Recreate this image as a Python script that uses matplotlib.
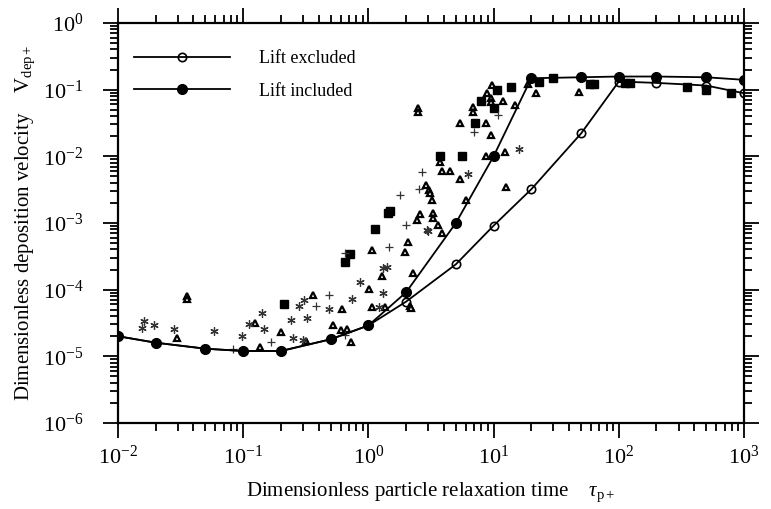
import matplotlib
matplotlib.use("Agg")
import matplotlib.pyplot as plt
from matplotlib.ticker import LogLocator, NullFormatter, FuncFormatter
import numpy as np

plt.rcParams['font.family'] = ['Liberation Serif', 'DejaVu Serif']
plt.rcParams['mathtext.fontset'] = 'custom'
plt.rcParams['mathtext.rm'] = 'Liberation Serif'
plt.rcParams['mathtext.it'] = 'Liberation Serif:italic'
plt.rcParams['mathtext.bf'] = 'Liberation Serif:bold'

# model curves
tau_curve = [0.01, 0.02, 0.05, 0.1, 0.2, 0.5, 1, 2, 5, 10, 20, 50, 100, 200, 500, 1000]
v_lift = [2.0e-5, 1.6e-5, 1.3e-5, 1.2e-5, 1.2e-5, 1.8e-5, 2.9e-5, 9.1e-5, 1.0e-3,
          1.0e-2, 0.148, 0.153, 0.157, 0.157, 0.153, 0.14]
v_nolift = [2.0e-5, 1.6e-5, 1.3e-5, 1.2e-5, 1.2e-5, 1.8e-5, 2.9e-5, 6.6e-5, 2.4e-4,
            9.1e-4, 3.2e-3, 0.022, 0.132, 0.126, 0.115, 0.088]

# experimental data (open triangles)
tri_tau = [0.0354, 0.0354, 0.0294, 0.124, 0.136, 0.20, 0.318, 0.363, 0.52, 0.61, 0.60,
           0.68, 0.726, 1.01, 1.06, 1.28, 1.35, 2.15, 2.2, 2.28, 1.06, 1.96, 2.06, 2.46,
           2.58, 3.3, 3.3, 3.6, 3.9, 2.9, 3.05, 3.1, 3.2, 3.73, 3.9, 4.5, 5.4, 6.0, 12.6,
           12.3, 8.7, 9.5, 8.65, 5.4, 6.8, 6.8, 2.5, 2.5, 8.9, 9.8, 9.5, 9.5, 11.9, 14.8,
           18.9, 22, 48]
tri_v = [7.9e-5, 7.2e-5, 1.86e-5, 3.15e-5, 1.4e-5, 2.35e-5, 1.7e-5, 8.2e-5, 2.95e-5,
         5.1e-5, 2.45e-5, 2.6e-5, 1.66e-5, 1.02e-4, 5.5e-5, 1.6e-4, 5.5e-5, 5.6e-5, 5.3e-5,
         1.78e-4, 3.9e-4, 3.7e-4, 5.1e-4, 1.1e-3, 1.37e-3, 1.4e-3, 1.2e-3, 9.4e-4, 7.0e-4,
         3.7e-3, 3.1e-3, 2.8e-3, 2.2e-3, 8.1e-3, 6.0e-3, 6.0e-3, 4.5e-3, 2.2e-3, 3.5e-3,
         1.17e-2, 1.02e-2, 2.1e-2, 0.032, 0.032, 0.055, 0.046, 0.053, 0.046, 0.088, 0.118,
         0.074, 0.066, 0.068, 0.059, 0.122, 0.088, 0.093]

# filled squares
sq_tau = [0.213, 0.65, 0.71, 1.13, 1.43, 1.5, 3.73, 5.6, 7.1, 8.0, 10.7, 10.0, 13.8, 23,
          30, 59, 63, 112, 122, 350, 500, 780]
sq_v = [6.1e-5, 2.6e-4, 3.4e-4, 8.1e-4, 1.4e-3, 1.5e-3, 1.0e-2, 1.0e-2, 0.031, 0.068,
        0.097, 0.053, 0.109, 0.132, 0.148, 0.122, 0.122, 0.125, 0.125, 0.109, 0.099, 0.089]

# plus signs
plus_tau = [0.083, 0.166, 0.38, 0.485, 0.65, 0.65, 1.47, 2.0, 1.79, 2.55, 2.7, 7.0, 10.8]
plus_v = [1.3e-5, 1.66e-5, 5.6e-5, 8.3e-5, 2.1e-5, 3.6e-4, 4.4e-4, 9.4e-4, 2.6e-3,
          3.2e-3, 5.8e-3, 0.023, 0.042]

# asterisks
ast_tau = [0.0162, 0.0156, 0.0195, 0.0279, 0.0588, 0.097, 0.112, 0.142, 0.148, 0.241,
           0.248, 0.279, 0.308, 0.325, 0.299, 0.487, 0.743, 0.857, 1.22, 1.31, 1.31, 1.4,
           2.92, 3.0, 6.3, 16]
ast_v = [3.4e-5, 2.65e-5, 2.9e-5, 2.6e-5, 2.4e-5, 2.05e-5, 3.0e-5, 4.4e-5, 2.6e-5, 3.45e-5,
         1.87e-5, 5.6e-5, 6.9e-5, 3.8e-5, 1.77e-5, 5.1e-5, 7.3e-5, 1.32e-4, 5.5e-5, 8.9e-5,
         2.1e-4, 2.2e-4, 7.9e-4, 7.5e-4, 5.5e-3, 1.3e-2]


def pow10(v, pos):
    e = int(round(np.log10(v)))
    return r'$\mathregular{10^{%d}}$' % e


fig = plt.figure(figsize=(7.71, 5.09), dpi=100)
ax = fig.add_axes([0.153, 0.169, 0.812, 0.786])

ax.plot(tri_tau, tri_v, '^', ms=5, mfc='white', mec='black', mew=1.6, ls='none')
ax.plot(sq_tau, sq_v, 's', ms=5.5, color='black', ls='none')
ax.plot(plus_tau, plus_v, '+', ms=6, color='#333333', mew=0.9, ls='none')
ax.plot(ast_tau, ast_v, marker=(6, 2, 0), ms=6, color='#333333', mew=0.9, ls='none')

l1, = ax.plot(tau_curve, v_nolift, '-o', color='black', lw=1.3, ms=6,
              mfc='none', mec='black', mew=1.2, label='Lift excluded')
l2, = ax.plot(tau_curve, v_lift, '-o', color='black', lw=1.3, ms=7,
              mfc='black', mec='black', label='Lift included')

ax.set_xscale('log')
ax.set_yscale('log')
ax.set_xlim(1e-2, 1e3)
ax.set_ylim(1e-6, 1e0)

for a in (ax.xaxis, ax.yaxis):
    a.set_major_locator(LogLocator(base=10, numticks=20))
    a.set_minor_locator(LogLocator(base=10, subs=range(2, 10), numticks=20))
    a.set_major_formatter(FuncFormatter(pow10))
    a.set_minor_formatter(NullFormatter())

for s in ax.spines.values():
    s.set_linewidth(1.6)
ax.tick_params(which='both', direction='out', top=True, right=True, width=1.3)
ax.tick_params(which='major', length=11, labelsize=16)
ax.tick_params(which='minor', length=5.5)
ax.tick_params(axis='y', which='major', pad=14)
ax.tick_params(axis='x', which='major', pad=5)

ax.set_xlabel(r'Dimensionless particle relaxation time    $\tau_{\rm p+}$',
              fontsize=15, labelpad=9)
ax.set_ylabel(r'Dimensionless deposition velocity    $\mathrm{V}_{\rm dep+}$',
              fontsize=15, labelpad=4)

ax.legend(handles=[l1, l2], loc='upper left', bbox_to_anchor=(-0.012, 0.99),
          frameon=False, fontsize=13, handlelength=5.3, handletextpad=1.6,
          labelspacing=0.85, borderaxespad=0.9)

fig.savefig('out.png', dpi=100)
